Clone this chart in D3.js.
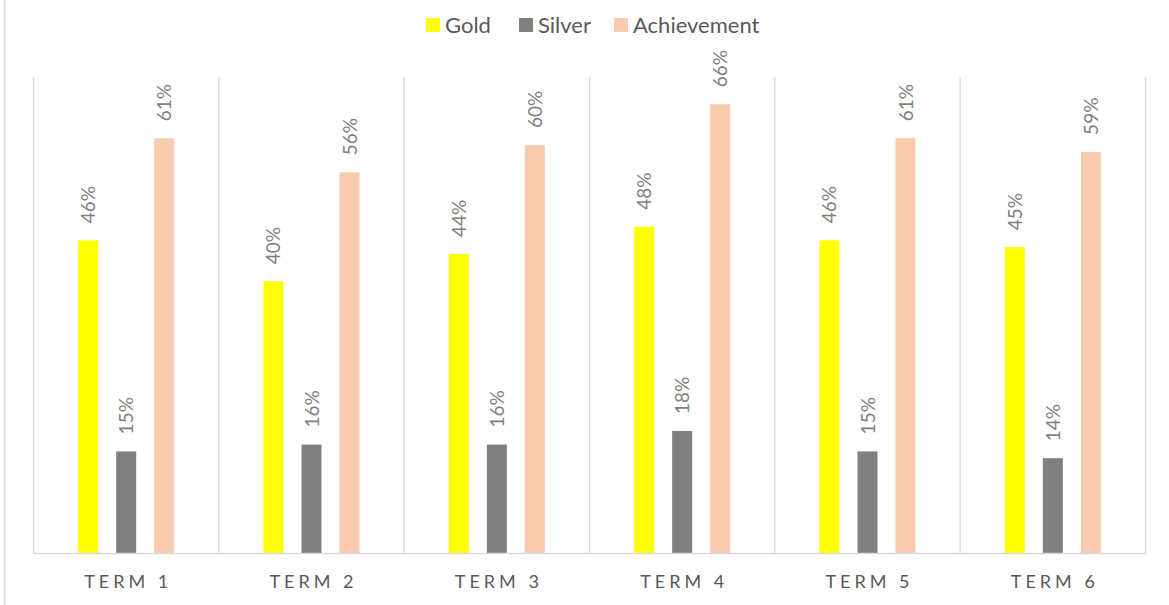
<!DOCTYPE html>
<html>
<head>
<meta charset="utf-8">
<script src="https://cdn.jsdelivr.net/npm/d3@7"></script>
<style>
  html, body { margin: 0; padding: 0; background: #fff; }
  svg { display: block; font-family: Lato, "Open Sans", sans-serif; }
</style>
</head>
<body>
<svg id="chart" width="1169" height="605"></svg>
<script>
// Terms and series shares (fractions)
const terms = ["TERM 1", "TERM 2", "TERM 3", "TERM 4", "TERM 5", "TERM 6"];
const seriesNames = ["Gold", "Silver", "Achievement"];
const gold = [0.46, 0.40, 0.44, 0.48, 0.46, 0.45];
const silver = [0.15, 0.16, 0.16, 0.18, 0.15, 0.14];
const achievement = [0.61, 0.56, 0.60, 0.66, 0.61, 0.59];
const colors = ["#ffff00", "#808080", "#f8cbad"];

const valuesBySeries = [gold, silver, achievement];
const rows = terms.map((t, i) => ({
  term: t,
  values: seriesNames.map((s, k) => ({ series: s, value: valuesBySeries[k][i], color: colors[k] }))
}));

const svg = d3.select("#chart");
const W = 1169, H = 605;
const plot = { left: 33.5, right: 1145.5, top: 77, bottom: 553.5 };

// outer chart-area border on the left
svg.append("line")
  .attr("x1", 4.5).attr("x2", 4.5).attr("y1", 0).attr("y2", H)
  .attr("stroke", "#d9d9d9").attr("stroke-width", 1.5);

const x0 = d3.scaleBand().domain(terms).range([plot.left, plot.right]).paddingInner(0).paddingOuter(0);
const x1 = d3.scaleBand().domain(seriesNames).range([0, x0.bandwidth()])
  .paddingInner(18 / 38).paddingOuter(1.175);
const y = d3.scaleLinear().domain([0, 0.7]).range([plot.bottom, plot.top]);

// vertical category separators
const seps = terms.map(t => x0(t)).concat([plot.right]);
svg.append("g").selectAll("line").data(seps).join("line")
  .attr("x1", d => d).attr("x2", d => d)
  .attr("y1", plot.top).attr("y2", plot.bottom)
  .attr("stroke", "#d9d9d9").attr("stroke-width", 1.3);

// bars
const groups = svg.append("g").selectAll("g").data(rows).join("g")
  .attr("transform", d => `translate(${x0(d.term)},0)`);

groups.selectAll("rect").data(d => d.values).join("rect")
  .attr("x", d => x1(d.series))
  .attr("width", x1.bandwidth())
  .attr("y", d => y(d.value))
  .attr("height", d => y(0) - y(d.value))
  .attr("fill", d => d.color);

// rotated value labels
groups.selectAll("text").data(d => d.values).join("text")
  .attr("transform", d => `translate(${x1(d.series) + x1.bandwidth() / 2 + 7},${y(d.value) - 17}) rotate(-90)`)
  .attr("text-anchor", "start")
  .attr("font-size", 19)
  .attr("fill", "#7f7f7f")
  .text(d => d3.format(".0%")(d.value));

// baseline
svg.append("line")
  .attr("x1", plot.left).attr("x2", plot.right)
  .attr("y1", plot.bottom).attr("y2", plot.bottom)
  .attr("stroke", "#d9d9d9").attr("stroke-width", 1.5);

// category axis labels
svg.append("g").selectAll("text").data(terms).join("text")
  .attr("x", d => x0(d) + x0.bandwidth() / 2 + 2)
  .attr("y", 588)
  .attr("text-anchor", "middle")
  .attr("font-size", 18)
  .attr("letter-spacing", "4px")
  .attr("fill", "#595959")
  .text(d => d);

// legend
const legendItems = [
  { name: "Gold", x: 426 },
  { name: "Silver", x: 519 },
  { name: "Achievement", x: 614 }
];
const legend = svg.append("g").selectAll("g").data(legendItems).join("g")
  .attr("transform", d => `translate(${d.x},18)`);
legend.append("rect").attr("width", 14).attr("height", 14)
  .attr("fill", (d, i) => colors[i]);
legend.append("text").attr("x", 19).attr("y", 14.5)
  .attr("font-size", 22).attr("fill", "#595959")
  .text(d => d.name);
</script>
</body>
</html>
